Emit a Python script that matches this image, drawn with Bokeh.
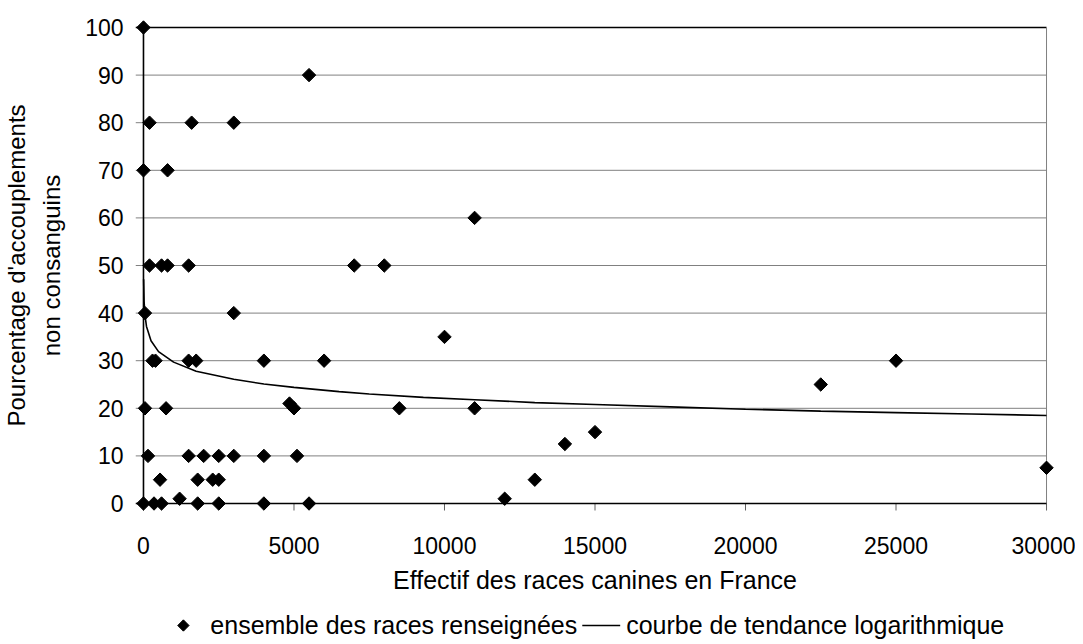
import numpy as np
from bokeh.plotting import figure
from bokeh.layouts import column
from bokeh.models import Range1d, FixedTicker
from bokeh.core.properties import value
from bokeh.embed import file_html
from bokeh.resources import INLINE

# ---------------- data ----------------
effectif = [0, 5500, 200, 1600, 3000, 0, 800, 11000,
            200, 600, 800, 1500, 7000, 8000,
            50, 3000, 10000,
            300, 400, 1500, 1750, 4000, 6000, 25000,
            22500,
            50, 750, 4850, 5000, 8500, 11000,
            15000, 14000,
            150, 1500, 2000, 2500, 3000, 4000, 5100,
            30000,
            550, 1800, 2300, 2500, 13000,
            0, 350, 600, 1200, 1800, 2500, 4000, 5500, 12000]
pourcentage = [100, 90, 80, 80, 80, 70, 70, 60,
               50, 50, 50, 50, 50, 50,
               40, 40, 35,
               30, 30, 30, 30, 30, 30, 30,
               25,
               20, 20, 21, 20, 20, 20,
               15, 12.5,
               10, 10, 10, 10, 10, 10, 10,
               7.5,
               5, 5, 5, 5, 5,
               0, 0, 0, 1, 0, 0, 0, 0, 1]

trend_x = [5, 20, 50, 100, 250, 500, 1000, 1750, 3000, 4000, 5000, 6500, 7500,
           9300, 11000, 13000, 15000, 17500, 20000, 22500, 25000, 27500, 30000]
trend_y = [47.1, 42.5, 39.5, 37.2, 34.2, 31.9, 29.7, 27.8, 26.1, 25.1, 24.4, 23.5, 23.0,
           22.3, 21.8, 21.2, 20.8, 20.3, 19.8, 19.4, 19.1, 18.8, 18.5]

x_ticks = [0, 5000, 10000, 15000, 20000, 25000, 30000]
y_ticks = [0, 10, 20, 30, 40, 50, 60, 70, 80, 90, 100]

x_title = "Effectif des races canines en France"
y_title = "Pourcentage d'accouplements\nnon consanguins"
legend_points = "ensemble des races renseignées"
legend_line = "courbe de tendance logarithmique"

# ---------------- layout ----------------
FONT = "Liberation Sans"
W, H = 1075, 602
FL, FT = 133, 19
FW, FH = 921, 492
PAD = 8
X0, X1 = x_ticks[0], x_ticks[-1]
Y0, Y1 = y_ticks[0], y_ticks[-1]
ux = (X1 - X0) / (FW - 2 * PAD)
uy = (Y1 - Y0) / (FH - 2 * PAD)
x_range = Range1d(X0 - PAD * ux, X1 + PAD * ux)
y_range = Range1d(Y0 - PAD * uy, Y1 + PAD * uy)

p = figure(width=W, height=H, x_range=x_range, y_range=y_range,
           output_backend="svg", toolbar_location=None,
           min_border_left=FL, min_border_right=W - FL - FW,
           min_border_top=FT, min_border_bottom=H - FT - FH)
p.outline_line_color = None
p.grid.visible = False
p.background_fill_color = "white"
p.border_fill_color = "white"

for ax, ticks, standoff in ((p.xaxis, x_ticks, 25), (p.yaxis, y_ticks, 12)):
    ax.ticker = FixedTicker(ticks=ticks)
    ax.axis_line_color = None
    ax.major_tick_line_color = None
    ax.minor_tick_line_color = None
    ax.major_tick_out = 0
    ax.major_tick_in = 0
    ax.major_label_standoff = standoff
    ax.major_label_text_font = FONT
    ax.major_label_text_font_size = "23px"
    ax.major_label_text_color = "black"
    ax.axis_label_text_font = FONT
    ax.axis_label_text_font_style = "normal"
    ax.axis_label_text_color = "black"
    ax.axis_label_text_align = "center"

p.xaxis.axis_label = x_title
p.xaxis.axis_label_text_font_size = "25px"
p.xaxis.axis_label_standoff = 9
p.yaxis.axis_label = y_title
p.yaxis.axis_label_text_font_size = "24px"
p.yaxis.axis_label_text_line_height = 1.3
p.yaxis.axis_label_standoff = 17

GRID = "#808080"
inner = y_ticks[1:-1]
# horizontal gridlines (with the outward left tick)
p.segment(x0=[x_range.start] * len(inner), y0=inner, x1=[X1] * len(inner), y1=inner,
          line_color=GRID, line_width=1)
# top line
p.segment(x0=[x_range.start], y0=[Y1], x1=[X1], y1=[Y1], line_color="black", line_width=1.3)
# right border
p.segment(x0=[X1], y0=[Y0], x1=[X1], y1=[Y1], line_color=GRID, line_width=1)
# x ticks
p.segment(x0=x_ticks, y0=[Y0] * len(x_ticks), x1=x_ticks, y1=[Y0 - 7 * uy] * len(x_ticks),
          line_color="#606060", line_width=1)
# axes
p.segment(x0=[x_range.start], y0=[Y0], x1=[X1], y1=[Y0], line_color="black", line_width=1.6)
p.segment(x0=[X0], y0=[Y0], x1=[X0], y1=[Y1], line_color="black", line_width=1.6)

p.line(trend_x, trend_y, line_color="black", line_width=1.6)
p.scatter(effectif, pourcentage, marker="square", angle=np.pi / 4, size=9.5,
          fill_color="black", line_color="black")

# ---------------- legend strip (page-pixel coordinates) ----------------
# the column aligns this strip's frame with the main frame: [FL, FL + FW]
LH = 40
leg = figure(width=W, height=LH, x_range=Range1d(FL, FL + FW), y_range=Range1d(H + LH, H),
             output_backend="svg", toolbar_location=None,
             x_axis_type=None, y_axis_type=None,
             min_border_left=FL, min_border_right=W - FL - FW,
             min_border_top=0, min_border_bottom=0)
leg.outline_line_color = None
leg.background_fill_color = "white"
leg.border_fill_color = "white"

LFS = 25
mid = H + 22           # vertical centre of the legend row (page y)
t1_x = 208
t1_w = 14.67 * LFS     # Arial/Liberation metrics
ln_x0 = t1_x + t1_w + 6
ln_x1 = ln_x0 + 38
t2_x = ln_x1 + 6

leg.scatter([181], [mid + 1], marker="square", angle=np.pi / 4, size=8,
            fill_color="black", line_color="black")
leg.line([ln_x0, ln_x1], [mid + 1, mid + 1], line_color="black", line_width=1.6)
leg.text(x=[t1_x, t2_x], y=[mid, mid], text=[legend_points, legend_line],
         text_font=value(FONT), text_font_size=f"{LFS}px", text_color="black",
         text_align="left", text_baseline="middle")

open("out.html", "w").write(file_html(column(p, leg, spacing=0), INLINE))
